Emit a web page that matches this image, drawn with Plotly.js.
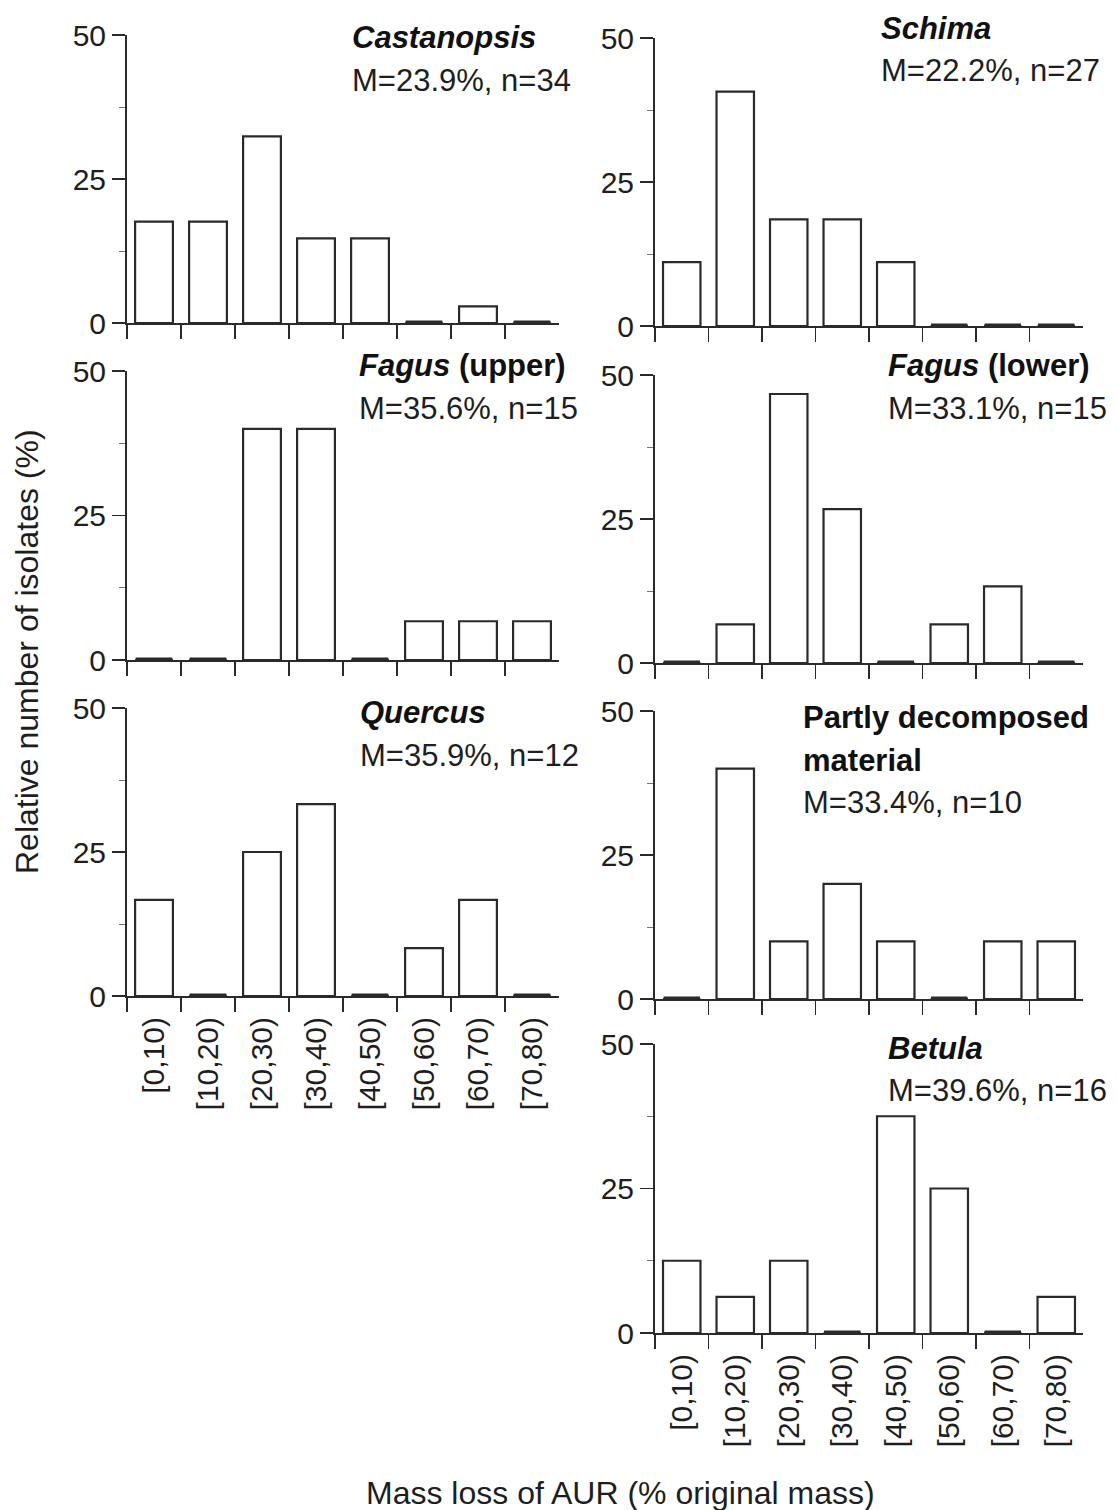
<!DOCTYPE html>
<html>
<head>
<meta charset="utf-8">
<script src="https://cdn.plot.ly/plotly-3.0.1.min.js"></script>
<style>html,body{margin:0;padding:0;background:#fff;}#chart{width:1117px;height:1510px;}</style>
</head>
<body>
<div id="chart"></div>
<script>
// ---- data ----
const categories = ["[0,10)", "[10,20)", "[20,30)", "[30,40)", "[40,50)", "[50,60)", "[60,70)", "[70,80)"];
const castanopsis = [17.6, 17.6, 32.4, 14.7, 14.7, 0, 2.9, 0];
const schima = [11.1, 40.7, 18.5, 18.5, 11.1, 0, 0, 0];
const fagusUpper = [0, 0, 40.0, 40.0, 0, 6.7, 6.7, 6.7];
const fagusLower = [0, 6.7, 46.7, 26.7, 0, 6.7, 13.3, 0];
const quercus = [16.7, 0, 25.0, 33.3, 0, 8.3, 16.7, 0];
const partlyDecomposed = [0, 40, 10, 20, 10, 0, 10, 10];
const betula = [12.5, 6.25, 12.5, 0, 37.5, 25.0, 0, 6.25];
const yTicks = [0, 25, 50];
const panelTitles = ["<i>Castanopsis</i>", "<i>Schima</i>", "<i>Fagus</i> (upper)", "<i>Fagus</i> (lower)", "<i>Quercus</i>", "Partly decomposed", "<i>Betula</i>"];
const panelStats = ["M=23.9%, n=34", "M=22.2%, n=27", "M=35.6%, n=15", "M=33.1%, n=15", "M=35.9%, n=12", "M=33.4%, n=10", "M=39.6%, n=16"];
const yTitle = "Relative number of isolates (%)";
const xTitle = "Mass loss of AUR (% original mass)";

// ---- layout helpers ----
const W = 1117, H = 1510;
const FONT = "Liberation Sans, Arial, sans-serif";
const TXT = "#1e1e1e";
const LINE = "#2a2a2a";
const px = v => v / W;
const py = v => 1 - v / H;

const panels = [
  {vals: castanopsis, x: [127, 559], y: [35, 323], labels: false, tx: 350, ty: 38, sy: 80},
  {vals: schima, x: [655, 1083], y: [38, 326], labels: false, tx: 879, ty: 28, sy: 70},
  {vals: fagusUpper, x: [127, 559], y: [371, 660], labels: false, tx: 357, ty: 365, sy: 408},
  {vals: fagusLower, x: [655, 1083], y: [375, 663], labels: false, tx: 886, ty: 365, sy: 408},
  {vals: quercus, x: [127, 559], y: [708, 996], labels: true, tx: 358, ty: 712, sy: 755},
  {vals: partlyDecomposed, x: [655, 1083], y: [711, 999], labels: false, tx: 801, ty: 717, sy: 802, extra: {text: "material", y: 760}},
  {vals: betula, x: [655, 1083], y: [1044, 1333], labels: true, tx: 886, ty: 1048, sy: 1090}
];

const data = [];
const layout = {
  width: W, height: H,
  margin: {l: 0, r: 0, t: 0, b: 0},
  paper_bgcolor: "#fff", plot_bgcolor: "#fff",
  showlegend: false,
  bargap: 0.3,
  font: {family: FONT, size: 30, color: TXT},
  annotations: [], shapes: []
};

panels.forEach((p, i) => {
  const n = i + 1;
  const xa = n === 1 ? "x" : "x" + n;
  const ya = n === 1 ? "y" : "y" + n;
  data.push({
    type: "bar", x: categories, y: p.vals, xaxis: xa, yaxis: ya,
    marker: {color: "#fff", line: {color: LINE, width: 2.2}},
    cliponaxis: false, hoverinfo: "none"
  });
  layout["xaxis" + (n === 1 ? "" : n)] = {
    domain: [px(p.x[0]), px(p.x[1])], anchor: ya,
    type: "category", range: [-0.5, 7.5], fixedrange: true,
    showline: true, linecolor: LINE, linewidth: 2,
    ticks: "outside", tickson: "boundaries", ticklen: 14, tickwidth: 1.5, tickcolor: LINE,
    showgrid: false, zeroline: false,
    showticklabels: p.labels, tickangle: -90, ticklabelstandoff: 7,
    tickfont: {family: FONT, size: 30, color: TXT}
  };
  layout["yaxis" + (n === 1 ? "" : n)] = {
    domain: [py(p.y[1]), py(p.y[0])], anchor: xa,
    range: [0, 50], fixedrange: true,
    showline: true, linecolor: LINE, linewidth: 2,
    tickvals: yTicks, ticktext: yTicks.map(String),
    ticks: "outside", ticklen: 13, tickwidth: 1.5, tickcolor: LINE,
    minor: {tickvals: [12.5, 37.5], ticks: "outside", ticklen: 6, tickwidth: 1, tickcolor: "#777"},
    showgrid: false, zeroline: false,
    tickfont: {family: FONT, size: 30, color: TXT}
  };
  // zero-count bins drawn as flat bars on the baseline
  p.vals.forEach((v, k) => {
    if (v === 0) {
      layout.shapes.push({type: "line", xref: xa, yref: ya, x0: k - 0.34, x1: k + 0.34, y0: 0, y1: 0,
        line: {color: LINE, width: 5}});
    }
  });
  layout.annotations.push({
    xref: "paper", yref: "paper", x: px(p.tx), y: py(p.ty), xanchor: "left", yanchor: "middle",
    text: "<b>" + panelTitles[i] + "</b>", showarrow: false,
    font: {family: FONT, size: 31, color: "#111"}
  });
  if (p.extra) {
    layout.annotations.push({
      xref: "paper", yref: "paper", x: px(p.tx), y: py(p.extra.y), xanchor: "left", yanchor: "middle",
      text: "<b>" + p.extra.text + "</b>", showarrow: false,
      font: {family: FONT, size: 31, color: "#111"}
    });
  }
  layout.annotations.push({
    xref: "paper", yref: "paper", x: px(p.tx), y: py(p.sy), xanchor: "left", yanchor: "middle",
    text: panelStats[i], showarrow: false,
    font: {family: FONT, size: 31, color: TXT}
  });
});

layout.annotations.push({
  xref: "paper", yref: "paper", x: px(27), y: py(652), xanchor: "center", yanchor: "middle",
  text: yTitle, textangle: -90, showarrow: false, font: {family: FONT, size: 32, color: TXT}
});
layout.annotations.push({
  xref: "paper", yref: "paper", x: px(620), y: py(1493), xanchor: "center", yanchor: "middle",
  text: xTitle, showarrow: false, font: {family: FONT, size: 32, color: TXT}
});

Plotly.newPlot("chart", data, layout, {staticPlot: true, displayModeBar: false});
</script>
</body>
</html>
